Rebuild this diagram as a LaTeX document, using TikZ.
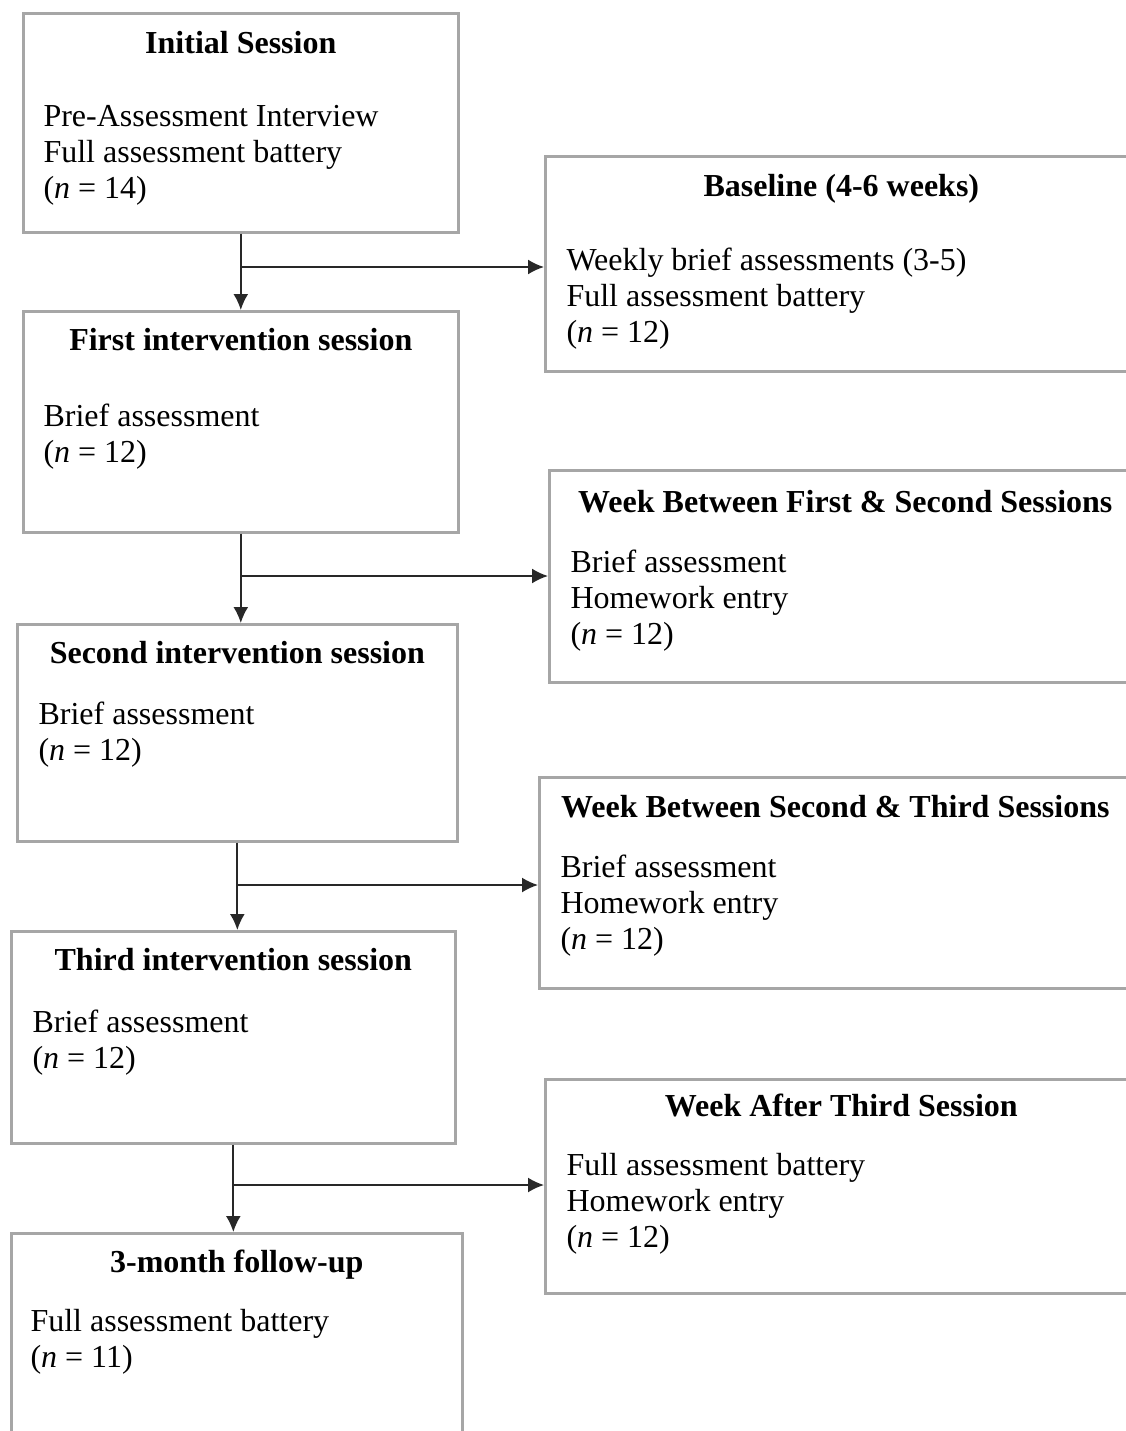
\documentclass[tikz,border=0pt]{standalone}
\usepackage{fontspec}
\setmainfont{Liberation Serif}
\usetikzlibrary{arrows.meta,positioning,calc}
\definecolor{boxgray}{RGB}{166,166,166}
\definecolor{linkgray}{RGB}{40,40,40}

\begin{document}
\begin{tikzpicture}[x=0.375pt,y=-0.375pt,>={Latex[length=6pt,width=5.6pt]},
  box/.style={draw=boxgray,line width=1pt,inner sep=0pt,anchor=north west},
  head/.style={font=\fontsize{12}{13.5}\selectfont\bfseries,inner sep=0pt,anchor=base},
  body/.style={font=\fontsize{12}{13.5}\selectfont,align=left,inner sep=0pt,anchor=north west},
  link/.style={->,draw=linkgray,line width=0.65pt}]
  \useasboundingbox (0,0) rectangle (1126,1431);
  \clip (0,0) rectangle (1126,1431);
  % left column
  \node[box,minimum width=163.1pt,minimum height=82.1pt] (l1) at (22,12) {};
  \node[box,minimum width=163.1pt,minimum height=82.9pt] (l2) at (22,310) {};
  \node[box,minimum width=165pt,minimum height=81.4pt] (l3) at (16,623) {};
  \node[box,minimum width=166.5pt,minimum height=79.5pt] (l4) at (10,930) {};
  \node[box,minimum width=169.1pt,minimum height=82.5pt] (l5) at (10,1232) {};
  \node[head] (l1h) at (l1.north |- 0,53) {Initial Session};
  \node[body] (l1b) at (43,105) {Pre-Assessment Interview\\Full assessment battery\\(\textit{n} = 14)};
  \node[head] (l2h) at (l2.north |- 0,350) {First intervention session};
  \node[body] (l2b) at (43,403) {Brief assessment\\(\textit{n} = 12)};
  \node[head] (l3h) at (l3.north |- 0,663) {Second intervention session};
  \node[body] (l3b) at (38,701) {Brief assessment\\(\textit{n} = 12)};
  \node[head] (l4h) at (l4.north |- 0,970) {Third intervention session};
  \node[body] (l4b) at (32,1009) {Brief assessment\\(\textit{n} = 12)};
  \node[head] (l5h) at (l5.north |- 0,1272) {3-month follow-up};
  \node[body] (l5b) at (30,1309) {Full assessment battery\\(\textit{n} = 11)};
  % right column
  \node[box,minimum width=222pt,minimum height=80.6pt] (r1) at (544,155) {};
  \node[box,minimum width=222pt,minimum height=79.5pt] (r2) at (548,469) {};
  \node[box,minimum width=222pt,minimum height=79.1pt] (r3) at (538,776) {};
  \node[box,minimum width=222pt,minimum height=80.25pt] (r4) at (544,1078) {};
  \node[head] (r1h) at (r1.north |- 0,196) {Baseline (4-6 weeks)};
  \node[body] (r1b) at (566,247) {Weekly brief assessments (3-5)\\Full assessment battery\\(\textit{n} = 12)};
  \node[head] (r2h) at (r2.north |- 0,512) {Week Between First \& Second Sessions};
  \node[body] (r2b) at (570,549) {Brief assessment\\Homework entry\\(\textit{n} = 12)};
  \node[head] (r3h) at (r3.north |- 0,817) {Week Between Second \& Third Sessions};
  \node[body] (r3b) at (560,854) {Brief assessment\\Homework entry\\(\textit{n} = 12)};
  \node[head] (r4h) at (r4.north |- 0,1116) {Week After Third Session};
  \node[body] (r4b) at (566,1153) {Full assessment battery\\Homework entry\\(\textit{n} = 12)};
  % junctions
  \coordinate (j1) at (l1.south |- 0,267);
  \coordinate (j2) at (l2.south |- 0,576);
  \coordinate (j3) at (l3.south |- 0,885);
  \coordinate (j4) at (l4.south |- 0,1185);
  \draw[link] (l1.south) -- (l1.south |- l2.north);
  \draw[link] (j1) -- (j1 -| r1.west);
  \draw[link] (l2.south) -- (l2.south |- l3.north);
  \draw[link] (j2) -- (j2 -| r2.west);
  \draw[link] (l3.south) -- (l3.south |- l4.north);
  \draw[link] (j3) -- (j3 -| r3.west);
  \draw[link] (l4.south) -- (l4.south |- l5.north);
  \draw[link] (j4) -- (j4 -| r4.west);
\end{tikzpicture}
\end{document}
